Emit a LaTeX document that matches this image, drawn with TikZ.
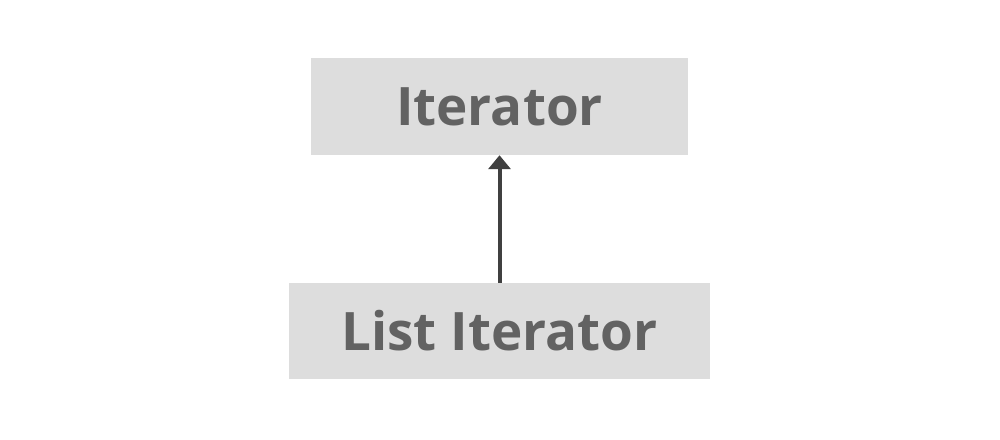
\documentclass[tikz,border=0pt]{standalone}
\usepackage{fontspec}
\setmainfont{Open Sans}[BoldFont={* Bold}]
\definecolor{boxfill}{HTML}{DDDDDD}
\definecolor{txt}{HTML}{626262}
\definecolor{arr}{HTML}{404040}
\usetikzlibrary{arrows.meta}
\begin{document}
\begin{tikzpicture}[x=1pt,y=-1pt,
  boxstyle/.style={fill=boxfill, draw=none, inner sep=0pt, font=\fontsize{53}{58}\selectfont\bfseries, text=txt},
  arrowstyle/.style={draw=arr, line width=4pt, -{Triangle[width=22pt,length=14pt]}}]
\useasboundingbox (0,0) rectangle (1000,439);
\node[boxstyle, minimum width=377pt, minimum height=97pt] (it) at (499.5,106.5) {Iterator};
\node[boxstyle, minimum width=421pt, minimum height=96pt] (li) at (499.5,331) {List Iterator};
\draw[arrowstyle] (li.north) -- (it.south);
\end{tikzpicture}
\end{document}
